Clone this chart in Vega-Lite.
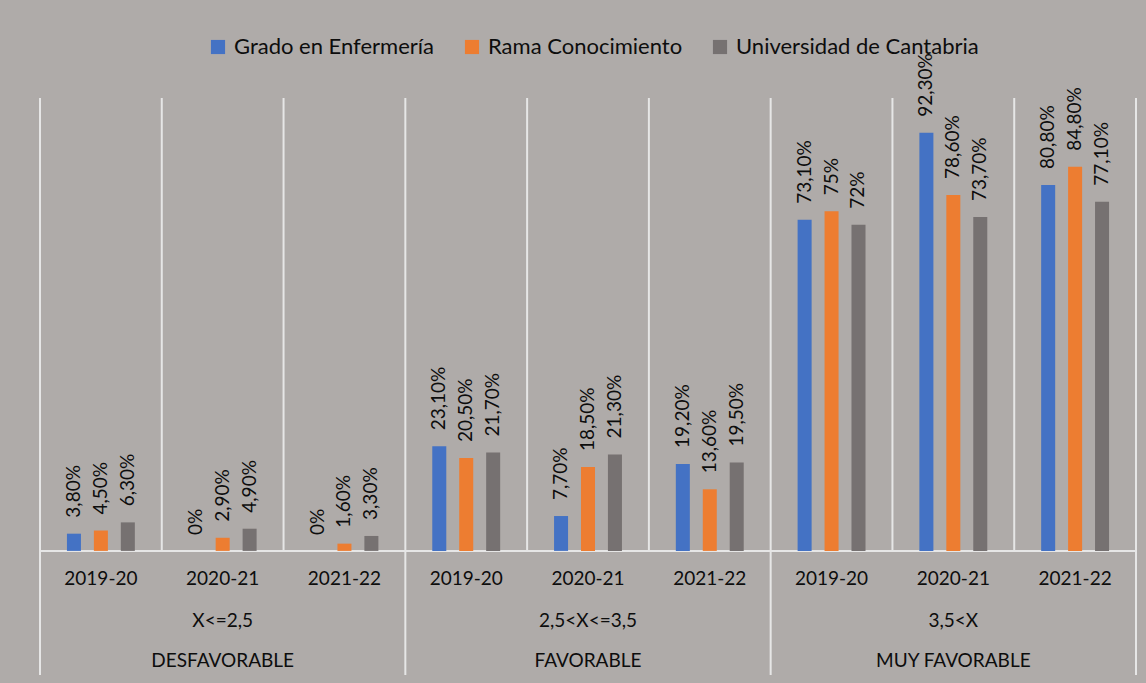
{
  "$schema": "https://vega.github.io/schema/vega-lite/v6.json",
  "width": 1096,
  "height": 577,
  "autosize": "none",
  "padding": {"left": 40, "top": 98, "right": 10, "bottom": 8},
  "background": "#AFABA9",
  "config": {"font": "Lato", "view": {"stroke": null}, "text": {"color": "#0D0D0D"}},
  "datasets": {
    "bars": [
      {"slot": "1", "series": "Grado en Enfermería", "value": 3.8, "label": "3,80%"},
      {"slot": "1", "series": "Rama Conocimiento", "value": 4.5, "label": "4,50%"},
      {"slot": "1", "series": "Universidad de Cantabria", "value": 6.3, "label": "6,30%"},
      {"slot": "2", "series": "Grado en Enfermería", "value": 0, "label": "0%"},
      {"slot": "2", "series": "Rama Conocimiento", "value": 2.9, "label": "2,90%"},
      {"slot": "2", "series": "Universidad de Cantabria", "value": 4.9, "label": "4,90%"},
      {"slot": "3", "series": "Grado en Enfermería", "value": 0, "label": "0%"},
      {"slot": "3", "series": "Rama Conocimiento", "value": 1.6, "label": "1,60%"},
      {"slot": "3", "series": "Universidad de Cantabria", "value": 3.3, "label": "3,30%"},
      {"slot": "4", "series": "Grado en Enfermería", "value": 23.1, "label": "23,10%"},
      {"slot": "4", "series": "Rama Conocimiento", "value": 20.5, "label": "20,50%"},
      {"slot": "4", "series": "Universidad de Cantabria", "value": 21.7, "label": "21,70%"},
      {"slot": "5", "series": "Grado en Enfermería", "value": 7.7, "label": "7,70%"},
      {"slot": "5", "series": "Rama Conocimiento", "value": 18.5, "label": "18,50%"},
      {"slot": "5", "series": "Universidad de Cantabria", "value": 21.3, "label": "21,30%"},
      {"slot": "6", "series": "Grado en Enfermería", "value": 19.2, "label": "19,20%"},
      {"slot": "6", "series": "Rama Conocimiento", "value": 13.6, "label": "13,60%"},
      {"slot": "6", "series": "Universidad de Cantabria", "value": 19.5, "label": "19,50%"},
      {"slot": "7", "series": "Grado en Enfermería", "value": 73.1, "label": "73,10%"},
      {"slot": "7", "series": "Rama Conocimiento", "value": 75, "label": "75%"},
      {"slot": "7", "series": "Universidad de Cantabria", "value": 72, "label": "72%"},
      {"slot": "8", "series": "Grado en Enfermería", "value": 92.3, "label": "92,30%"},
      {"slot": "8", "series": "Rama Conocimiento", "value": 78.6, "label": "78,60%"},
      {"slot": "8", "series": "Universidad de Cantabria", "value": 73.7, "label": "73,70%"},
      {"slot": "9", "series": "Grado en Enfermería", "value": 80.8, "label": "80,80%"},
      {"slot": "9", "series": "Rama Conocimiento", "value": 84.8, "label": "84,80%"},
      {"slot": "9", "series": "Universidad de Cantabria", "value": 77.1, "label": "77,10%"}
    ],
    "slots": [
      {"slot": "1", "year": "2019-20", "edge": "group"},
      {"slot": "2", "year": "2020-21", "edge": "year"},
      {"slot": "3", "year": "2021-22", "edge": "year"},
      {"slot": "4", "year": "2019-20", "edge": "group"},
      {"slot": "5", "year": "2020-21", "edge": "year"},
      {"slot": "6", "year": "2021-22", "edge": "year"},
      {"slot": "7", "year": "2019-20", "edge": "group"},
      {"slot": "8", "year": "2020-21", "edge": "year"},
      {"slot": "9", "year": "2021-22", "edge": "year"}
    ],
    "groups": [
      {"slot": "2", "range": "X<=2,5", "cat": "DESFAVORABLE"},
      {"slot": "5", "range": "2,5<X<=3,5", "cat": "FAVORABLE"},
      {"slot": "8", "range": "3,5<X", "cat": "MUY FAVORABLE"}
    ]
  },
  "layer": [
    {
      "data": {"name": "slots"},
      "transform": [{"filter": "datum.edge == 'year'"}],
      "mark": {"type": "rule", "color": "#E6E6E6", "strokeWidth": 2},
      "encoding": {
        "x": {"field": "slot", "type": "nominal", "bandPosition": 0, "axis": null, "scale": {"paddingInner": 0, "paddingOuter": 0}},
        "y": {"datum": 100, "type": "quantitative", "axis": null, "scale": {"domain": [-27.4, 100], "nice": false}},
        "y2": {"datum": 0}
      }
    },
    {
      "data": {"name": "slots"},
      "transform": [{"filter": "datum.edge == 'group'"}],
      "mark": {"type": "rule", "color": "#E6E6E6", "strokeWidth": 2},
      "encoding": {
        "x": {"field": "slot", "type": "nominal", "bandPosition": 0},
        "y": {"datum": 100, "type": "quantitative"},
        "y2": {"datum": -27.4}
      }
    },
    {
      "data": {"name": "slots"},
      "transform": [{"filter": "datum.slot == '9'"}],
      "mark": {"type": "rule", "color": "#E6E6E6", "strokeWidth": 2},
      "encoding": {
        "x": {"field": "slot", "type": "nominal", "bandPosition": 1},
        "y": {"datum": 100, "type": "quantitative"},
        "y2": {"datum": -27.4}
      }
    },
    {
      "data": {"name": "slots"},
      "mark": {"type": "rule", "color": "#E6E6E6", "strokeWidth": 2},
      "encoding": {
        "y": {"datum": 0, "type": "quantitative"}
      }
    },
    {
      "data": {"name": "bars"},
      "mark": {"type": "bar"},
      "encoding": {
        "x": {"field": "slot", "type": "nominal"},
        "xOffset": {"field": "series", "type": "nominal", "sort": ["Grado en Enfermería", "Rama Conocimiento", "Universidad de Cantabria"], "scale": {"paddingInner": 0.48, "paddingOuter": 1.18}},
        "y": {"field": "value", "type": "quantitative"},
        "color": {
          "field": "series", "type": "nominal",
          "scale": {"domain": ["Grado en Enfermería", "Rama Conocimiento", "Universidad de Cantabria"], "range": ["#4472C4", "#ED7D31", "#767171"]},
          "legend": {
            "title": null, "orient": "none", "direction": "horizontal",
            "legendX": 167, "legendY": -62,
            "symbolType": "square", "symbolSize": 200, "symbolStrokeWidth": 0,
            "labelFontSize": 22, "labelFont": "Lato", "labelColor": "#0D0D0D",
            "labelOffset": 5, "columnPadding": 26, "padding": 0, "labelLimit": 400
          }
        }
      }
    },
    {
      "data": {"name": "bars"},
      "mark": {"type": "text", "angle": 270, "align": "left", "baseline": "middle", "dx": 16, "fontSize": 19},
      "encoding": {
        "x": {"field": "slot", "type": "nominal"},
        "xOffset": {"field": "series", "type": "nominal", "sort": ["Grado en Enfermería", "Rama Conocimiento", "Universidad de Cantabria"]},
        "y": {"field": "value", "type": "quantitative"},
        "text": {"field": "label"}
      }
    },
    {
      "data": {"name": "slots"},
      "mark": {"type": "text", "baseline": "middle", "align": "center", "fontSize": 19},
      "encoding": {
        "x": {"field": "slot", "type": "nominal"},
        "y": {"datum": -6.2, "type": "quantitative"},
        "text": {"field": "year"}
      }
    },
    {
      "data": {"name": "groups"},
      "mark": {"type": "text", "baseline": "middle", "align": "center", "fontSize": 19},
      "encoding": {
        "x": {"field": "slot", "type": "nominal"},
        "y": {"datum": -15.5, "type": "quantitative"},
        "text": {"field": "range"}
      }
    },
    {
      "data": {"name": "groups"},
      "mark": {"type": "text", "baseline": "middle", "align": "center", "fontSize": 19},
      "encoding": {
        "x": {"field": "slot", "type": "nominal"},
        "y": {"datum": -24.4, "type": "quantitative"},
        "text": {"field": "cat"}
      }
    }
  ]
}
